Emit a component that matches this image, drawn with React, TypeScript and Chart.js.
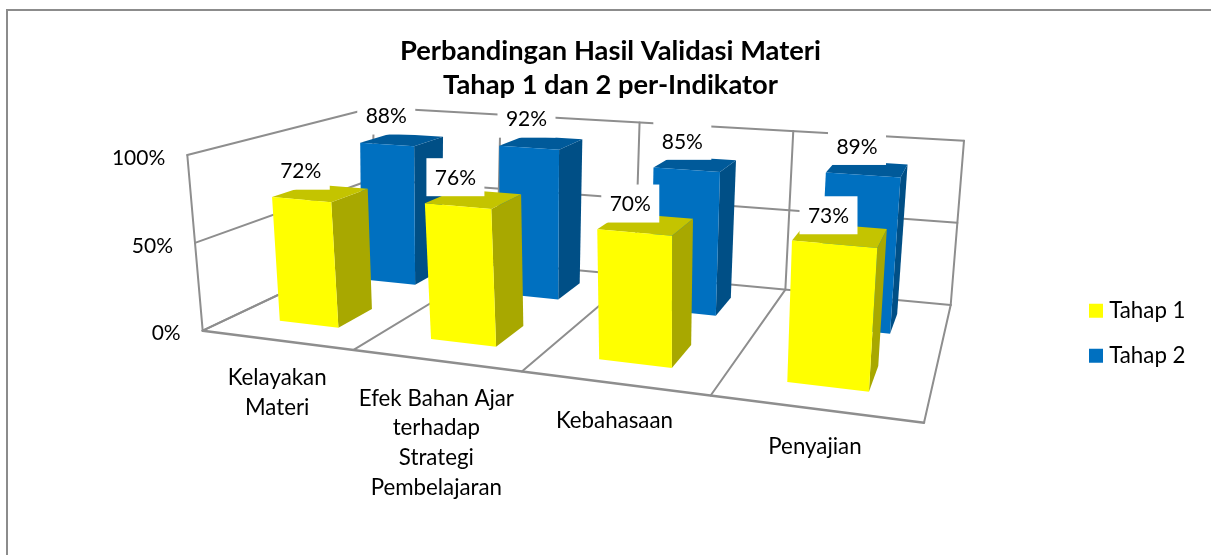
import React, { useEffect, useRef } from "react";
import { Chart, registerables } from "chart.js";

Chart.register(...registerables);

const categories = [
  ["Kelayakan", "Materi"],
  ["Efek Bahan Ajar", "terhadap", "Strategi", "Pembelajaran"],
  ["Kebahasaan"],
  ["Penyajian"],
];
const tahap1 = [72, 76, 70, 73];
const tahap2 = [88, 92, 85, 89];
const titleLines = ["Perbandingan Hasil Validasi Materi", "Tahap 1 dan 2 per-Indikator"];
const FONT = "Lato, Carlito, sans-serif";

type P = [number, number];

function quad(p0: P, p1: P, p2: P, p3: P) {
  const [x0, y0] = p0, [x1, y1] = p1, [x2, y2] = p2, [x3, y3] = p3;
  const dx1 = x1 - x2, dx2 = x3 - x2, sx = x0 - x1 + x2 - x3;
  const dy1 = y1 - y2, dy2 = y3 - y2, sy = y0 - y1 + y2 - y3;
  const den = dx1 * dy2 - dx2 * dy1;
  const g = (sx * dy2 - dx2 * sy) / den;
  const h = (dx1 * sy - sx * dy1) / den;
  const a = x1 - x0 + g * x1, b = x3 - x0 + h * x3;
  const d = y1 - y0 + g * y1, e = y3 - y0 + h * y3;
  return (u: number, v: number): P => {
    const q = g * u + h * v + 1;
    return [(a * u + b * v + x0) / q, (d * u + e * v + y0) / q];
  };
}

// the 3D frame of the plot: floor plane and the plane of the 100% level
const floor = quad([202.7, 330.7], [924, 422.7], [950.7, 305], [371, 251]);
const ceil = quad([187.3, 155], [940, 215], [964, 140.7], [374, 107.5]);
const project = (u: number, v: number, w: number): P => {
  const a = floor(u, v), b = ceil(u, v);
  return [a[0] + (b[0] - a[0]) * w, a[1] + (b[1] - a[1]) * w];
};

const GRID = "#8e8e8e";
const DEPTHS = [[0.16, 0.36], [0.65, 0.85]];
const BAR_SHIFT = 0.004;
const FACES = [
  { front: "#ffff00", top: "#c4c400", side: "#a8a800" },
  { front: "#0070c0", top: "#005a9a", side: "#004f86" },
];

function poly(ctx: CanvasRenderingContext2D, pts: P[], fill: string) {
  ctx.beginPath();
  pts.forEach((p, i) => (i ? ctx.lineTo(p[0], p[1]) : ctx.moveTo(p[0], p[1])));
  ctx.closePath();
  ctx.fillStyle = fill;
  ctx.fill();
}
function seg(ctx: CanvasRenderingContext2D, a: P, b: P, width = 2) {
  ctx.beginPath();
  ctx.moveTo(a[0], a[1]);
  ctx.lineTo(b[0], b[1]);
  ctx.strokeStyle = GRID;
  ctx.lineWidth = width;
  ctx.stroke();
}

const perspective = {
  id: "perspective",
  afterLayout(chart: any) {
    const lg = chart.legend;
    const w = lg.width;
    lg.left = 1071.3;
    lg.right = 1071.3 + w;
    lg.top = 277;
  },
  beforeDatasetsDraw(chart: any) {
    const { ctx, chartArea: area, scales } = chart;
    const yS = scales.y;
    const heightOf = (val: number) => (yS.getPixelForValue(0) - yS.getPixelForValue(val)) / (yS.getPixelForValue(0) - yS.getPixelForValue(yS.max));
    const n = chart.data.labels.length;
    ctx.save();
    ctx.lineCap = "round";
    // frame of the chart
    ctx.strokeStyle = "#8c8c8c";
    ctx.lineWidth = 2;
    ctx.beginPath();
    ctx.moveTo(7, 555);
    ctx.lineTo(7, 10);
    ctx.lineTo(1211, 10);
    ctx.stroke();
    // walls
    yS.ticks.forEach((t: any) => {
      const w = heightOf(t.value);
      seg(ctx, project(0, 0, w), project(0, 1, w));
      seg(ctx, project(0, 1, w), project(1, 1, w));
    });
    for (let k = 0; k <= n; k++) {
      seg(ctx, project(k / n, 1, 0), project(k / n, 1, 1));
      seg(ctx, project(k / n, 0, 0), project(k / n, 1, 0));
    }
    seg(ctx, project(0, 0, 0), project(0, 0, 1));
    seg(ctx, project(0, 0, 0), project(1, 0, 0), 2.5);
    // bars, back row first
    for (let ds = chart.data.datasets.length - 1; ds >= 0; ds--) {
      const meta = chart.getDatasetMeta(ds);
      const [v0, v1] = DEPTHS[ds];
      const face = FACES[ds];
      meta.data.forEach((el: any) => {
        const u0 = (el.x - el.width / 2 - area.left) / area.width + BAR_SHIFT;
        const u1 = (el.x + el.width / 2 - area.left) / area.width + BAR_SHIFT;
        const w = (el.base - el.y) / (yS.getPixelForValue(0) - yS.getPixelForValue(yS.max));
        const a = project(u0, v0, 0), b = project(u1, v0, 0), c = project(u1, v1, 0);
        const e = project(u0, v0, w), f = project(u1, v0, w), g = project(u1, v1, w), h = project(u0, v1, w);
        poly(ctx, [b, c, g, f], face.side);
        poly(ctx, [e, f, g, h], face.top);
        poly(ctx, [a, b, f, e], face.front);
      });
    }
    ctx.restore();
  },
  afterDatasetsDraw(chart: any) {
    const { ctx, chartArea: area, scales } = chart;
    const yS = scales.y, xS = scales.x;
    const full = yS.getPixelForValue(0) - yS.getPixelForValue(yS.max);
    ctx.save();
    ctx.textAlign = "center";
    ctx.textBaseline = "middle";
    ctx.font = `21px ${FONT}`;
    // value labels on white plates
    chart.data.datasets.forEach((set: any, ds: number) => {
      const meta = chart.getDatasetMeta(ds);
      const v0 = DEPTHS[ds][0];
      meta.data.forEach((el: any, i: number) => {
        const u0 = (el.x - el.width / 2 - area.left) / area.width + BAR_SHIFT;
        const u1 = (el.x + el.width / 2 - area.left) / area.width + BAR_SHIFT;
        const w = (el.base - el.y) / full;
        const l = project(u0, v0, w), r = project(u1, v0, w);
        const cx = (l[0] + r[0]) / 2 - 7 * (u0 + u1) / 2;
        const cy = (l[1] + r[1]) / 2 - 29;
        ctx.fillStyle = "#ffffff";
        ctx.fillRect(cx - 29, cy - 19, 58, 38);
        ctx.fillStyle = "#000000";
        ctx.fillText(`${set.data[i]}%`, cx, cy + 1);
      });
    });
    // value axis
    ctx.textAlign = "right";
    yS.ticks.forEach((t: any) => {
      const p = project(0, 0, (yS.getPixelForValue(0) - yS.getPixelForValue(t.value)) / full);
      ctx.fillText(t.label, p[0] - 22, p[1] + 3);
    });
    // category axis
    ctx.font = `22.3px ${FONT}`;
    ctx.textAlign = "center";
    chart.data.labels.forEach((lab: string[], i: number) => {
      const u = (xS.getPixelForValue(i) - area.left) / area.width;
      const p = project(u, 0, 0);
      lab.forEach((line, k) => ctx.fillText(line, p[0] + 1, p[1] + 38 + k * 29.7));
    });
    ctx.restore();
  },
};

export default function App() {
  const ref = useRef<HTMLCanvasElement>(null);
  useEffect(() => {
    document.body.style.margin = "0";
    const chart = new Chart(ref.current!, {
      type: "bar",
      data: {
        labels: categories as any,
        datasets: [
          { label: "Tahap 1", data: tahap1, backgroundColor: "#ffff00", borderColor: "#ffff00" },
          { label: "Tahap 2", data: tahap2, backgroundColor: "#0070c0", borderColor: "#0070c0" },
        ].map((d) => ({ ...d, grouped: false, borderWidth: 10, barPercentage: 0.4, categoryPercentage: 1 })) as any,
      },
      options: {
        responsive: false,
        animation: false,
        layout: { padding: { left: 10, right: 0, top: 0, bottom: 0 } },
        scales: {
          x: { display: false },
          y: {
            display: false,
            min: 0,
            max: 100,
            ticks: { stepSize: 50, callback: (v: any) => `${v}%` },
          },
        },
        plugins: {
          tooltip: { enabled: false },
          title: {
            display: true,
            text: titleLines,
            color: "#000000",
            font: { family: FONT, size: 27.3, weight: "bold", lineHeight: 1.25 },
            padding: { top: 34, bottom: 10 },
          },
          legend: {
            position: "right",
            align: "start",
            labels: {
              color: "#000000",
              boxWidth: 4,
              boxHeight: 4,
              padding: 22.7,
              font: { family: FONT, size: 22.3 },
            },
          },
        },
      },
      plugins: [perspective],
    } as any);
    // the bars themselves are painted by the perspective plugin
    chart.data.datasets.forEach((_: any, i: number) => {
      chart.getDatasetMeta(i).data.forEach((el: any) => {
        el.draw = () => {};
      });
    });
    chart.draw();
    return () => chart.destroy();
  }, []);
  return <canvas ref={ref} width={1211} height={555} style={{ display: "block" }} />;
}
